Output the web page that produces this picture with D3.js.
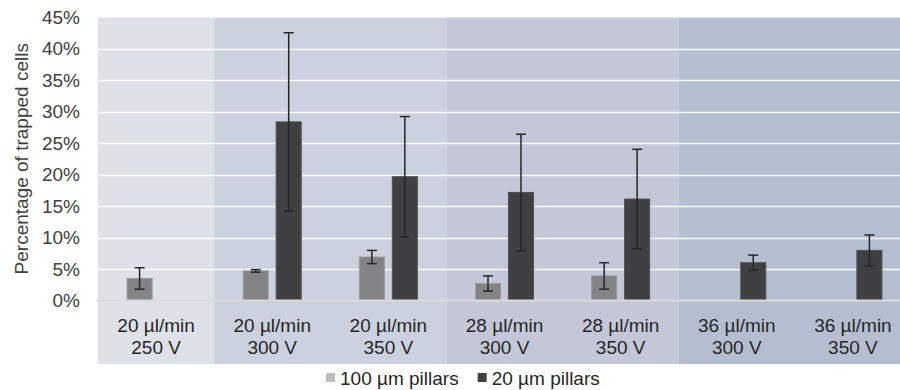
<!DOCTYPE html>
<html>
<head>
<meta charset="utf-8">
<script src="https://cdn.jsdelivr.net/npm/d3@7"></script>
<style>
  body { margin: 0; background: #fff; }
  svg { display: block; font-family: "Liberation Sans", Arial, sans-serif; }
</style>
</head>
<body>
<svg id="chart" width="900" height="390"></svg>
<script>
// data (percent)
const flowRates = ["20 µl/min", "20 µl/min", "20 µl/min", "28 µl/min", "28 µl/min", "36 µl/min", "36 µl/min"];
const voltages = ["250 V", "300 V", "350 V", "300 V", "350 V", "300 V", "350 V"];
const pillars100 = [3.5, 4.7, 6.9, 2.7, 3.9, null, null];
const pillars100Err = [1.7, 0.2, 1.05, 1.2, 2.1, null, null];
const pillars20 = [null, 28.35, 19.65, 17.15, 16.1, 6.0, 7.95];
const pillars20Err = [null, 14.15, 9.55, 9.25, 7.9, 1.2, 2.45];
const seriesNames = ["100 µm pillars", "20 µm pillars"];
const yTicks = [0, 5, 10, 15, 20, 25, 30, 35, 40, 45];
// which categories share a background shade
const groupSpans = [[0, 0], [1, 2], [3, 4], [5, 6]];

const bandColours = ["#dfe1e8", "#cbd1de", "#c3c7d8", "#b5bed0"];
const barColours = ["#838386", "#404042"];
const barStrokes = ["#9b9ba0", "#505053"];
const legendColours = ["#bdbdbd", "#404040"];

var svg = d3.select("#chart");
var plotTop = 17, axisY = 300.5, bandBottom = 364;
var fs = 19;

var cats = d3.range(flowRates.length);

var x = d3.scaleBand()
	.domain(cats)
	.range([98, 911]);

var inner = d3.scaleBand()
	.domain([0, 1])
	.range([-29.5, 29.5])
	.paddingInner(0.21);

var y = d3.scaleLinear()
	.domain([0, 45])
	.range([axisY, plotTop]);

// background shading per group, running down behind the labels
svg.append("g")
	.selectAll("rect")
	.data(groupSpans)
	.join("rect")
	.attr("x", d => x(d[0]))
	.attr("y", plotTop)
	.attr("width", d => x(d[1]) + x.bandwidth() - x(d[0]))
	.attr("height", bandBottom - plotTop)
	.attr("fill", (d, i) => bandColours[i]);

// gridlines
svg.append("g")
	.selectAll("line")
	.data(yTicks.slice(1))
	.join("line")
	.attr("x1", 98)
	.attr("x2", 900)
	.attr("y1", d => Math.round(y(d)) + 0.5)
	.attr("y2", d => Math.round(y(d)) + 0.5)
	.attr("stroke", "#fff")
	.attr("stroke-opacity", d => d == 45 ? 0.5 : 0.9)
	.attr("stroke-width", 1.5);

// y tick labels
svg.append("g")
	.attr("font-size", fs)
	.attr("fill", "#404040")
	.attr("text-anchor", "end")
	.selectAll("text")
	.data(yTicks)
	.join("text")
	.attr("x", 80)
	.attr("y", d => y(d))
	.attr("dy", "0.35em")
	.text(d => d + "%");

svg.append("text")
	.attr("transform", `translate(28,${(plotTop + axisY) / 2}) rotate(-90)`)
	.attr("text-anchor", "middle")
	.attr("font-size", fs)
	.attr("fill", "#404040")
	.text("Percentage of trapped cells");

// bars
var series = [
	{ vals: pillars100, errs: pillars100Err },
	{ vals: pillars20, errs: pillars20Err }
];

series.forEach(function (s, si) {
	var pts = cats.filter(i => s.vals[i] != null);
	var cx = i => x(i) + x.bandwidth() / 2 + inner(si);

	svg.append("g")
		.selectAll("rect")
		.data(pts)
		.join("rect")
		.attr("x", i => cx(i) + 0.5)
		.attr("y", i => y(s.vals[i]))
		.attr("width", inner.bandwidth() - 1)
		.attr("height", i => axisY - y(s.vals[i]))
		.attr("fill", barColours[si])
		.attr("stroke", barStrokes[si])
		.attr("stroke-width", 1);

	var eg = svg.append("g")
		.attr("stroke", "#262626")
		.attr("stroke-width", 1.5)
		.selectAll("g")
		.data(pts)
		.join("g")
		.attr("transform", i => `translate(${cx(i) + inner.bandwidth() / 2},0)`);

	eg.append("line")
		.attr("y1", i => y(s.vals[i] + s.errs[i]))
		.attr("y2", i => y(s.vals[i] - s.errs[i]));
	eg.append("line")
		.attr("x1", -5).attr("x2", 5)
		.attr("y1", i => y(s.vals[i] + s.errs[i]))
		.attr("y2", i => y(s.vals[i] + s.errs[i]));
	eg.append("line")
		.attr("x1", -5).attr("x2", 5)
		.attr("y1", i => y(s.vals[i] - s.errs[i]))
		.attr("y2", i => y(s.vals[i] - s.errs[i]));
});

// axis line
svg.append("line")
	.attr("x1", 96)
	.attr("x2", 900)
	.attr("y1", axisY)
	.attr("y2", axisY)
	.attr("stroke", "#d9d9d9")
	.attr("stroke-width", 2);

// category labels
var lab = svg.append("g")
	.attr("font-size", fs)
	.attr("fill", "#262626")
	.attr("text-anchor", "middle")
	.selectAll("text")
	.data(cats)
	.join("text")
	.attr("transform", i => `translate(${x(i) + x.bandwidth() / 2},0)`);

lab.append("tspan").attr("x", 0).attr("y", 332).text(i => flowRates[i]);
lab.append("tspan").attr("x", 0).attr("y", 354).text(i => voltages[i]);

// legend
var leg = svg.append("g").attr("font-size", fs).attr("fill", "#262626");
var lx = 326;
seriesNames.forEach(function (name, i) {
	leg.append("rect")
		.attr("x", lx).attr("y", 373)
		.attr("width", 9).attr("height", 9)
		.attr("fill", legendColours[i]);
	var t = leg.append("text")
		.attr("x", lx + 14).attr("y", 384.5)
		.text(name);
	lx += 14 + t.node().getComputedTextLength() + 19;
});
</script>
</body>
</html>
